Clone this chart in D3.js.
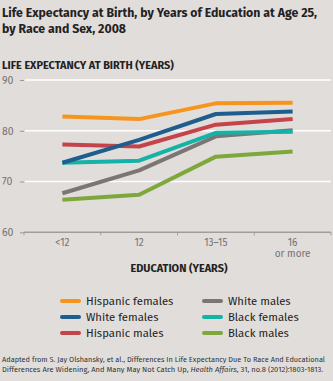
<!DOCTYPE html>
<html><head><meta charset="utf-8">
<script src="https://cdn.jsdelivr.net/npm/d3@7"></script>
<style>
html,body{margin:0;padding:0;background:#e1dddb;}
svg{display:block;}
</style></head>
<body>
<svg id="chart" width="333" height="381"></svg>
<script>
const categories = ["<12", "12", "13\u201315", "16"];
const seriesNames = ["Hispanic females", "White females", "Hispanic males", "White males", "Black females", "Black males"];
const hispanicFemales = [82.8, 82.3, 85.4, 85.5];
const whiteFemales    = [73.7, 78.2, 83.3, 83.8];
const hispanicMales   = [77.3, 76.9, 81.2, 82.3];
const whiteMales      = [67.7, 72.2, 78.9, 80.1];
const blackFemales    = [73.7, 74.1, 79.6, 79.8];
const blackMales      = [66.4, 67.4, 74.9, 75.9];
const yTicks = [60, 70, 80, 90];
const colors = ["#f7941d", "#1d5e8e", "#c3444b", "#7b7574", "#15b2a8", "#7ea83b"];

const seriesValues = [hispanicFemales, whiteFemales, hispanicMales, whiteMales, blackFemales, blackMales];
const svg = d3.select("#chart");
const font = "'Fira Sans','Open Sans',Lato,sans-serif";

svg.append("text").attr("x", 2).attr("y", 17).attr("font-family", font).attr("font-weight", 700)
  .attr("font-size", 12.3).attr("fill", "#222").text("Life Expectancy at Birth, by Years of Education at Age 25,");
svg.append("text").attr("x", 2).attr("y", 33).attr("font-family", font).attr("font-weight", 700)
  .attr("font-size", 12.3).attr("fill", "#222").text("by Race and Sex, 2008");
svg.append("text").attr("x", 2).attr("y", 69).attr("font-family", font).attr("font-weight", 700)
  .attr("font-size", 10.9).attr("fill", "#222").text("LIFE EXPECTANCY AT BIRTH (YEARS)");

const x = d3.scaleBand().domain(categories).range([24, 331]);
const y = d3.scaleLinear().domain([60, 90]).range([232.3, 80]);

// grid
svg.append("g").selectAll("line").data(yTicks.filter(d => d > 60)).join("line")
  .attr("x1", 25).attr("x2", 331).attr("y1", d => y(d)).attr("y2", d => y(d))
  .attr("stroke", "#ffffff").attr("stroke-width", 1.5);

// y axis ticks/labels
const yAxis = d3.axisLeft(y).tickValues(yTicks).tickSize(4).tickPadding(6);
const gy = svg.append("g").attr("transform", "translate(24,0)").call(yAxis);
gy.select(".domain").remove();
gy.selectAll(".tick line").attr("stroke", "#9a9694").attr("stroke-width", 1);
gy.selectAll(".tick text").attr("font-family", font).attr("font-size", 10.5).attr("fill", "#767270")
  .attr("text-anchor", "start").attr("x", -22);

// x axis
const gx = svg.append("g").attr("transform", `translate(0,${y(60)})`);
gx.append("line").attr("x1", 24).attr("x2", 331).attr("y1", 0).attr("y2", 0)
  .attr("stroke", "#a19d9b").attr("stroke-width", 1.5);
const bounds = categories.map(c => x(c)).concat([x.range()[1]]);
gx.selectAll("line.t").data(bounds).join("line").attr("class", "t")
  .attr("x1", d => d).attr("x2", d => d).attr("y1", 0).attr("y2", 3)
  .attr("stroke", "#a19d9b").attr("stroke-width", 1);
gx.selectAll("text.l").data(categories).join("text").attr("class", "l")
  .attr("x", d => x(d) + x.bandwidth() / 2).attr("y", 13.5)
  .attr("text-anchor", "middle").attr("font-family", font).attr("font-size", 10).attr("fill", "#767270")
  .text(d => d);
gx.append("text").attr("x", x("16") + x.bandwidth() / 2).attr("y", 25)
  .attr("text-anchor", "middle").attr("font-family", font).attr("font-size", 10).attr("fill", "#767270")
  .text("or more");
svg.append("text").attr("x", 179).attr("y", 272).attr("text-anchor", "middle")
  .attr("font-family", font).attr("font-weight", 700).attr("font-size", 10.9).attr("fill", "#222")
  .text("EDUCATION (YEARS)");

// lines (draw order: back to front)
const line = d3.line().x((d, i) => x(categories[i]) + x.bandwidth() / 2).y(d => y(d));
const order = [5, 3, 4, 2, 1, 0];
svg.append("g").selectAll("path").data(order).join("path")
  .attr("d", i => line(seriesValues[i]))
  .attr("fill", "none").attr("stroke", i => colors[i]).attr("stroke-width", 4)
  .attr("stroke-linejoin", "round");

// legend
const lg = svg.append("g");
seriesNames.forEach((name, i) => {
  const col = i < 3 ? 0 : 1;
  const row = i % 3;
  const lx = col === 0 ? 62 : 204;
  const ly = 301 + row * 16;
  lg.append("line").attr("x1", lx).attr("x2", lx + 17).attr("y1", ly).attr("y2", ly)
    .attr("stroke", colors[i]).attr("stroke-width", 4).attr("stroke-linecap", "round");
  lg.append("text").attr("x", lx + 24).attr("y", ly + 4).attr("font-family", font)
    .attr("font-size", 11.3).attr("fill", "#222").text(name);
});

// footnote
const fn1 = svg.append("text").attr("x", 2).attr("y", 362).attr("font-family", font)
  .attr("font-size", 7.3).attr("fill", "#333")
  .attr("textLength", 323).attr("lengthAdjust", "spacingAndGlyphs");
fn1.text("Adapted from S. Jay Olshansky, et al., Differences In Life Expectancy Due To Race And Educational");
const fn2 = svg.append("text").attr("x", 2).attr("y", 372).attr("font-family", font)
  .attr("font-size", 7.3).attr("fill", "#333")
  .attr("textLength", 321).attr("lengthAdjust", "spacingAndGlyphs");
fn2.append("tspan").text("Differences Are Widening, And Many May Not Catch Up, ");
fn2.append("tspan").attr("font-style", "italic").text("Health Affairs");
fn2.append("tspan").text(", 31, no.8 (2012):1803-1813.");
</script>
</body></html>
